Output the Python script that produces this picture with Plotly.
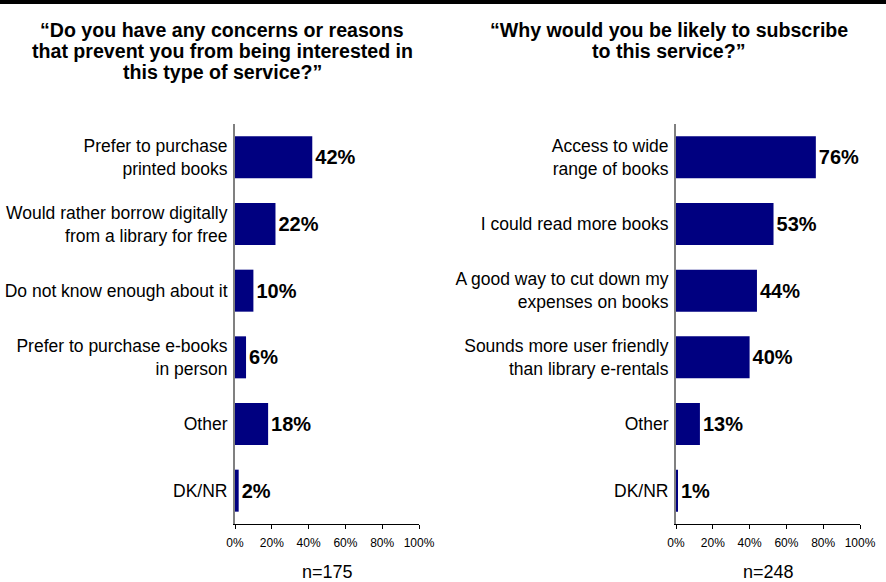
import plotly.graph_objects as go

# Survey responses: reasons against / reasons for subscribing
concern_labels = [
    "Prefer to purchase<br>printed books",
    "Would rather borrow digitally<br>from a library for free",
    "Do not know enough about it",
    "Prefer to purchase e-books<br>in person",
    "Other",
    "DK/NR",
]
concern_values = [42, 22, 10, 6, 18, 2]

reason_labels = [
    "Access to wide<br>range of books",
    "I could read more books",
    "A good way to cut down my<br>expenses on books",
    "Sounds more user friendly<br>than library e-rentals",
    "Other",
    "DK/NR",
]
reason_values = [76, 53, 44, 40, 13, 1]

left_title = [
    "\u201cDo you have any concerns or reasons",
    "that prevent you from being interested in",
    "this type of service?\u201d",
]
right_title = [
    "\u201cWhy would you be likely to subscribe",
    "to this service?\u201d",
]
left_n = "n=175"
right_n = "n=248"

tick_vals = [0, 20, 40, 60, 80, 100]
tick_text = ["0%", "20%", "40%", "60%", "80%", "100%"]

W, H = 886, 582
FONT = "Liberation Sans, Arial, sans-serif"
BAR = "#000080"


def px_x(p):
    return p / W


def px_y(p):
    return 1 - p / H


fig = go.Figure()

fig.add_trace(go.Bar(
    x=concern_values, y=concern_labels, orientation="h",
    marker=dict(color=BAR, line=dict(width=0)),
    text=[f"<b>{v}%</b>" for v in concern_values],
    textposition="outside", cliponaxis=False,
    textfont=dict(size=20, color="black", family=FONT),
    xaxis="x", yaxis="y", showlegend=False,
))
fig.add_trace(go.Bar(
    x=reason_values, y=reason_labels, orientation="h",
    marker=dict(color=BAR, line=dict(width=0)),
    text=[f"<b>{v}%</b>" for v in reason_values],
    textposition="outside", cliponaxis=False,
    textfont=dict(size=20, color="black", family=FONT),
    xaxis="x2", yaxis="y2", showlegend=False,
))

y_dom = [px_y(524), px_y(124)]

xcommon = dict(
    range=[0, 100], tickvals=tick_vals, ticktext=tick_text,
    ticks="outside", ticklen=4, tickcolor="black", tickwidth=1,
    ticklabelstandoff=4,
    showline=True, linecolor="black", linewidth=1,
    showgrid=False, zeroline=False, automargin=False,
    tickfont=dict(size=12, color="black", family=FONT),
    fixedrange=True,
)
ycommon = dict(
    type="category", autorange="reversed",
    showline=True, linecolor="#808080", linewidth=2,
    showgrid=False, zeroline=False, ticks="", automargin=False,
    ticklabelstandoff=2,
    tickfont=dict(size=17.5, color="black", family=FONT),
    domain=y_dom, fixedrange=True,
)

fig.update_layout(
    width=W, height=H, autosize=False,
    margin=dict(l=0, r=0, t=0, b=0, pad=0),
    paper_bgcolor="white", plot_bgcolor="white",
    font=dict(family=FONT, color="black"),
    bargap=0.37,
    xaxis=dict(domain=[px_x(235), px_x(419)], anchor="y", **xcommon),
    yaxis=dict(anchor="x", **ycommon),
    xaxis2=dict(domain=[px_x(676), px_x(860)], anchor="y2", **xcommon),
    yaxis2=dict(anchor="x2", **ycommon),
    showlegend=False,
)

# heavy rule across the top
fig.add_shape(type="rect", xref="paper", yref="paper",
              x0=0, x1=1, y0=px_y(4), y1=1,
              fillcolor="black", line=dict(width=0))

annotations = []
for i, line in enumerate(left_title):
    annotations.append(dict(
        x=px_x(222), y=px_y(30 + 21 * i), xref="paper", yref="paper",
        text=f"<b>{line}</b>", showarrow=False,
        xanchor="center", yanchor="middle",
        font=dict(size=19.6, color="black", family=FONT),
    ))
for i, line in enumerate(right_title):
    annotations.append(dict(
        x=px_x(669), y=px_y(30 + 21 * i), xref="paper", yref="paper",
        text=f"<b>{line}</b>", showarrow=False,
        xanchor="center", yanchor="middle",
        font=dict(size=19.6, color="black", family=FONT),
    ))
annotations.append(dict(
    x=px_x(327), y=px_y(572), xref="paper", yref="paper",
    text=left_n, showarrow=False, xanchor="center", yanchor="middle",
    font=dict(size=18, color="black", family=FONT),
))
annotations.append(dict(
    x=px_x(768), y=px_y(572), xref="paper", yref="paper",
    text=right_n, showarrow=False, xanchor="center", yanchor="middle",
    font=dict(size=18, color="black", family=FONT),
))
fig.update_layout(annotations=annotations)

fig.write_html("out.html", config={"displayModeBar": False})
